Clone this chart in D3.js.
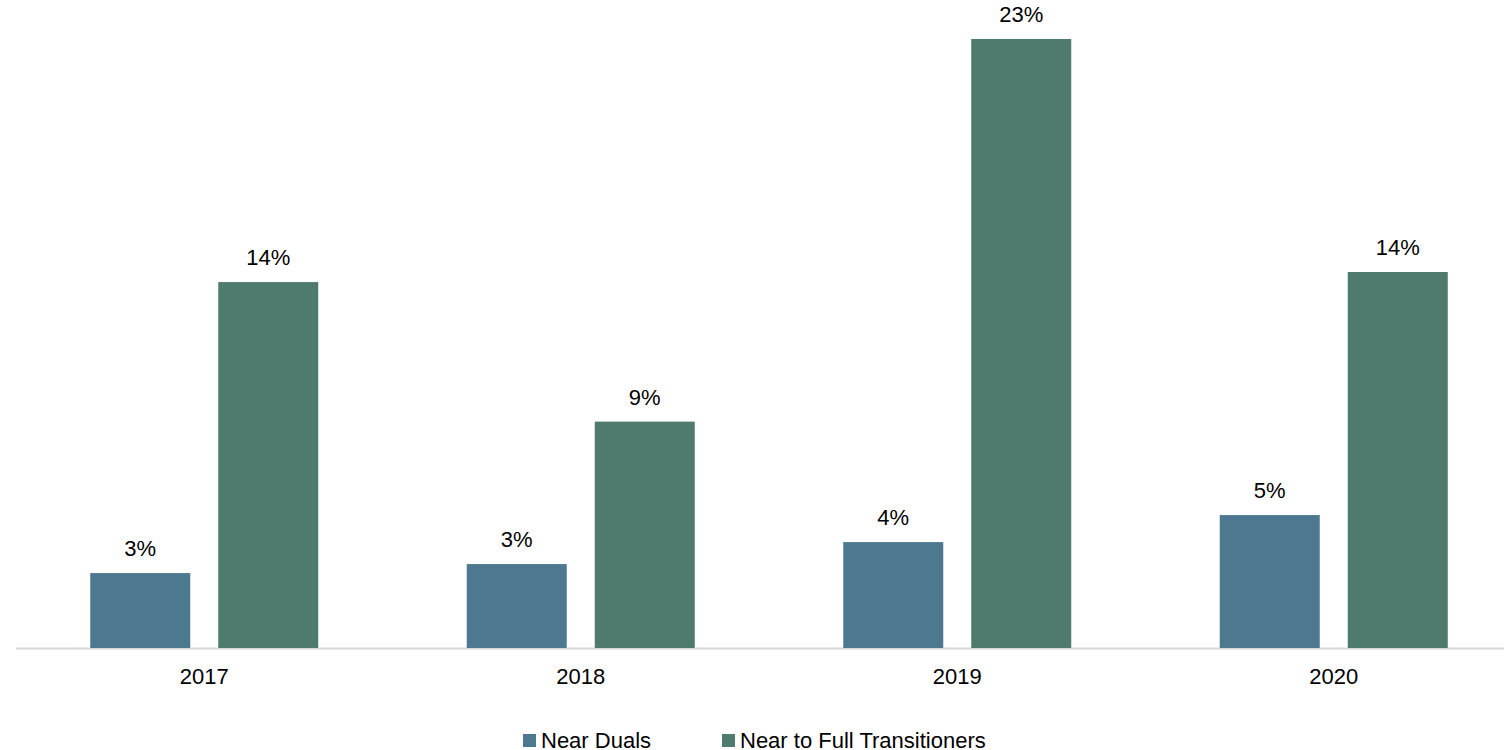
<!DOCTYPE html>
<html>
<head>
<meta charset="utf-8">
<script src="https://cdn.jsdelivr.net/npm/d3@7"></script>
<style>
  body { margin: 0; background: #fff; }
  svg { display: block; font-family: Arial, "Liberation Sans", sans-serif; }
</style>
</head>
<body>
<svg></svg>
<script>
var years = ['2017', '2018', '2019', '2020'];
var seriesNames = ['Near Duals', 'Near to Full Transitioners'];
var nearDuals = [2.83, 3.17, 4.0, 5.02];
var nearToFull = [13.82, 8.55, 23.0, 14.2];
var colors = ['#4d7990', '#4f7a6e'];

/* svg setting */
var svgWidth = 1504;
var svgHeight = 750;
var baseY = 648;
var fontSize = 22;

var svg = d3.select('svg')
    .attr('width', svgWidth)
    .attr('height', svgHeight);

var scale = {};
scale.x = d3.scaleBand()
    .domain(years)
    .range([16, 1522]);
// two bars of 100px with a 28px gap inside each group
scale.inner = d3.scaleBand()
    .domain(seriesNames)
    .range([0, 228])
    .paddingInner(0.21875);
scale.y = d3.scaleLinear()
    .domain([0, 23])
    .range([baseY, 39]);

var rows = years.map(function(y, i){
  return {year: y, values: [nearDuals[i], nearToFull[i]]};
});

// axis line
svg.append('line')
    .attr('x1', 16).attr('x2', svgWidth)
    .attr('y1', baseY + 0.5).attr('y2', baseY + 0.5)
    .attr('stroke', '#d9d9d9')
    .attr('stroke-width', 2);

var groups = svg.selectAll('.grp')
    .data(rows)
    .enter()
    .append('g')
    .attr('class', 'grp')
    .attr('transform', function(d){
      var c = scale.x(d.year) + scale.x.bandwidth() / 2;
      return translate(c - 114, 0);
    });

groups.selectAll('rect')
    .data(function(d){ return d.values.map(function(v, k){ return {name: seriesNames[k], v: v, k: k}; }); })
    .enter()
    .append('rect')
    .attr('x', function(d){ return scale.inner(d.name); })
    .attr('width', scale.inner.bandwidth())
    .attr('y', function(d){ return scale.y(d.v); })
    .attr('height', function(d){ return baseY - scale.y(d.v); })
    .attr('fill', function(d){ return colors[d.k]; });

groups.selectAll('text.val')
    .data(function(d){ return d.values.map(function(v, k){ return {name: seriesNames[k], v: v}; }); })
    .enter()
    .append('text')
    .attr('class', 'val')
    .attr('x', function(d){ return scale.inner(d.name) + scale.inner.bandwidth() / 2; })
    .attr('y', function(d){ return scale.y(d.v) - 17; })
    .attr('text-anchor', 'middle')
    .attr('font-size', fontSize)
    .attr('fill', '#000')
    .text(function(d){ return Math.round(d.v) + '%'; });

// category labels
svg.selectAll('text.cat')
    .data(years)
    .enter()
    .append('text')
    .attr('class', 'cat')
    .attr('x', function(d){ return scale.x(d) + scale.x.bandwidth() / 2; })
    .attr('y', 684)
    .attr('text-anchor', 'middle')
    .attr('font-size', fontSize)
    .attr('fill', '#000')
    .text(function(d){ return d; });

// legend
var legendX = [523, 722];
var legend = svg.selectAll('.leg')
    .data(seriesNames)
    .enter()
    .append('g')
    .attr('class', 'leg')
    .attr('transform', function(d, i){ return translate(legendX[i], 734); });
legend.append('rect')
    .attr('width', 13).attr('height', 13)
    .attr('fill', function(d, i){ return colors[i]; });
legend.append('text')
    .attr('x', 18)
    .attr('y', 14)
    .attr('font-size', fontSize)
    .attr('fill', '#000')
    .text(function(d){ return d; });

function translate(x, y) {
  return 'translate(' + x + ',' + y + ')';
}
</script>
</body>
</html>
